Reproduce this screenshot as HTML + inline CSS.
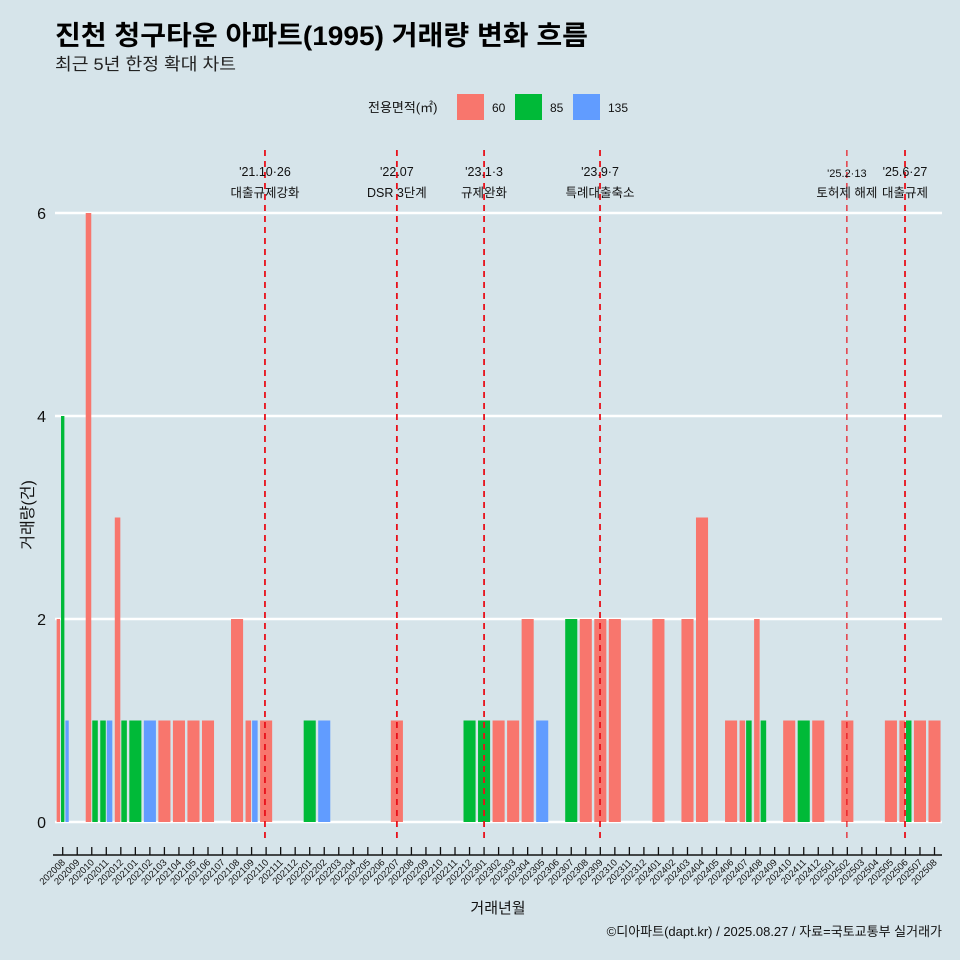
<!DOCTYPE html>
<html><head><meta charset="utf-8"><style>
html,body{margin:0;padding:0;background:#d6e4ea;overflow:hidden;width:960px;height:960px;}
svg{display:block;}
svg text{font-family:"Liberation Sans","Noto Sans CJK KR",sans-serif;}
</style></head><body>
<svg id="c" width="960" height="960" xmlns="http://www.w3.org/2000/svg">
<rect width="960" height="960" fill="#d6e4ea"/>
<text x="55" y="45" font-size="27" font-weight="bold" fill="#000" textLength="533" lengthAdjust="spacingAndGlyphs">진천 청구타운 아파트(1995) 거래량 변화 흐름</text>
<text x="55" y="70" font-size="17" fill="#222" textLength="181" lengthAdjust="spacingAndGlyphs">최근 5년 한정 확대 차트</text>
<g>
<text x="368" y="112" font-size="13" fill="#111">전용면적(㎡)</text>
<rect x="457" y="94" width="27" height="26" fill="#f8766d"/>
<text x="492" y="112" font-size="12" fill="#111">60</text>
<rect x="515" y="94" width="27" height="26" fill="#00ba38"/>
<text x="550" y="112" font-size="12" fill="#111">85</text>
<rect x="573" y="94" width="27" height="26" fill="#619cff"/>
<text x="608" y="112" font-size="12" fill="#111">135</text>
</g>
<g id="grid"></g><g id="bars"></g><g id="events"></g><g id="axes"></g>
<text x="498" y="913" font-size="15" fill="#111" text-anchor="middle">거래년월</text>
<text x="942" y="936" font-size="13" fill="#111" text-anchor="end">©디아파트(dapt.kr) / 2025.08.27 / 자료=국토교통부 실거래가</text>
<text x="0" y="0" font-size="16" fill="#111" text-anchor="middle" transform="translate(33,515) rotate(-90)">거래량(건)</text>
</svg>
<script>
const months=["202008","202009","202010","202011","202012","202101","202102","202103","202104","202105","202106","202107","202108","202109","202110","202111","202112","202201","202202","202203","202204","202205","202206","202207","202208","202209","202210","202211","202212","202301","202302","202303","202304","202305","202306","202307","202308","202309","202310","202311","202312","202401","202402","202403","202404","202405","202406","202407","202408","202409","202410","202411","202412","202501","202502","202503","202504","202505","202506","202507","202508"];
const s60 =[2,0,6,0,3,0,0,1,1,1,1,0,2,1,1,0,0,0,0,0,0,0,0,1,0,0,0,0,0,0,1,1,2,0,0,0,2,2,2,0,0,2,0,2,3,0,1,1,2,0,1,0,1,0,1,0,0,1,1,1,1];
const s85 =[4,0,1,1,1,1,0,0,0,0,0,0,0,0,0,0,0,1,0,0,0,0,0,0,0,0,0,0,1,1,0,0,0,0,0,2,0,0,0,0,0,0,0,0,0,0,0,1,1,0,0,1,0,0,0,0,0,0,1,0,0];
const s135=[1,0,0,1,0,0,1,0,0,0,0,0,0,1,0,0,0,0,1,0,0,0,0,0,0,0,0,0,0,0,0,0,0,1,0,0,0,0,0,0,0,0,0,0,0,0,0,0,0,0,0,0,0,0,0,0,0,0,0,0,0];
const yTicks=[0,2,4,6];
const eventIdx=[13.92,23,29.0,36.98,53.97,57.97];
const eventDate=["'21.10·26","'22.07","'23.1·3","'23.9·7","'25.2·13","'25.6·27"];
const eventLabel=["대출규제강화","DSR 3단계","규제완화","특례대출축소","토허제 해제","대출규제"];
const NS="http://www.w3.org/2000/svg";
const x0=62.7,step=14.53,y0=822,unit=101.5;
const X=i=>x0+i*step, Y=v=>y0-v*unit;
function mk(t,a,p){const e=document.createElementNS(NS,t);for(const k in a)e.setAttribute(k,a[k]);document.getElementById(p).appendChild(e);return e;}
yTicks.forEach(v=>{
 const l=mk('line',{x1:55,x2:942,y1:Y(v),y2:Y(v),stroke:'#fff','stroke-width':2.5},'grid');
 
 
 const t=mk('text',{x:46,y:Y(v)+6,'font-size':16,'text-anchor':'end',fill:'#111'},'axes');t.textContent=v;
 
 
});
const cols=['#f8766d','#00ba38','#619cff'],ser=[s60,s85,s135],nm=['60','85','135'];
months.forEach((m,i)=>{
 const pres=[0,1,2].filter(k=>ser[k][i]>0);
 const W=step*0.9,w=W/(pres.length||1);
 pres.forEach((k,j)=>{
  const v=ser[k][i];
  const r=mk('rect',{x:X(i)-W/2+j*w+0.5,width:w-1,y:Y(v),height:v*unit,fill:cols[k]},'bars');
  
  
 });
 const tk=mk('line',{x1:X(i),x2:X(i),y1:847,y2:855,stroke:'#111','stroke-width':1.3},'axes');
 
 
 const t=mk('text',{'font-size':9.5,fill:'#111','text-anchor':'end',transform:`translate(${X(i)+3},${863}) rotate(-45)`},'axes');t.textContent=m;
 
 
});
const ax=mk('line',{x1:53,x2:942,y1:855,y2:855,stroke:'#111','stroke-width':1.5},'axes');


eventIdx.forEach((e,i)=>{
 const x=X(e);
 const l=mk('line',{x1:x,x2:x,y1:150,y2:840,stroke:'#e8101a','stroke-width':i==4?1.2:1.8,'stroke-dasharray':'6,5'},'events');
 
 
 const t1=mk('text',{x:x,y:i==4?177:176,'font-size':i==4?11:12.5,'text-anchor':'middle',fill:'#111'},'events');t1.textContent=eventDate[i];
 
 
 const t2=mk('text',{x:x,y:197,'font-size':12.5,'text-anchor':'middle',fill:'#111'},'events');t2.textContent=eventLabel[i];
 
 
});
</script>
</body></html>
